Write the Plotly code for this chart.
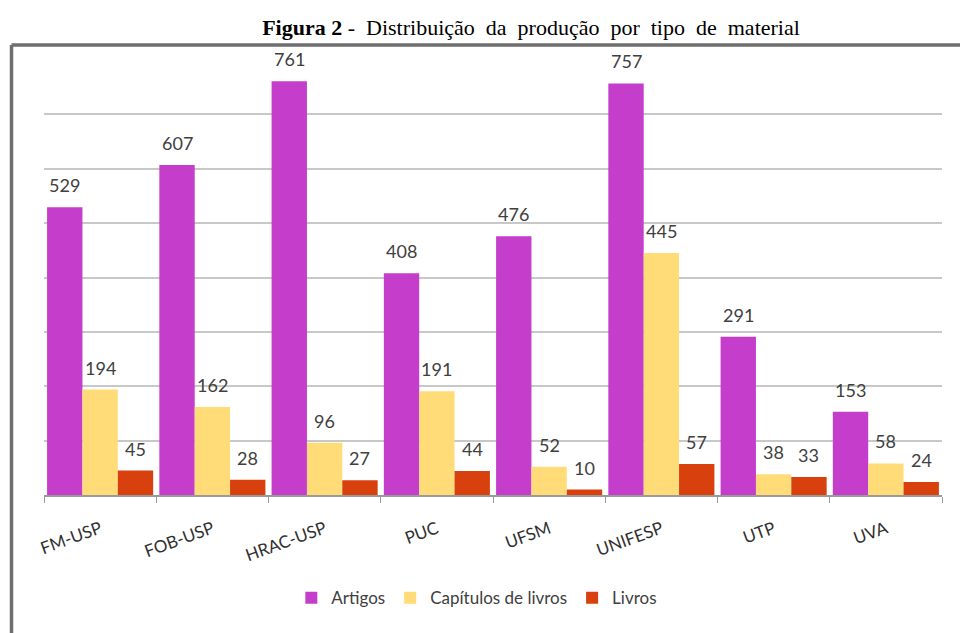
import plotly.graph_objects as go

categories = ["FM-USP", "FOB-USP", "HRAC-USP", "PUC", "UFSM", "UNIFESP", "UTP", "UVA"]
artigos = [529, 607, 761, 408, 476, 757, 291, 153]
capitulos = [194, 162, 96, 191, 52, 445, 38, 58]
livros = [45, 28, 27, 44, 10, 57, 33, 24]

series = [
    ("Artigos", artigos, "#C43ECB"),
    ("Capítulos de livros", capitulos, "#FFDC78"),
    ("Livros", livros, "#D8400E"),
]

W, H = 960, 633
ml, mr, mt, mb = 44, 18, 60, 138
pw = W - ml - mr
ph = H - mt - mb
bargap = 0.055
bar_px = pw / len(categories) * (1 - bargap) / len(series)

LABEL_FONT = "Lato, Open Sans, sans-serif"

fig = go.Figure()
annotations = []
for i, (name, vals, col) in enumerate(series):
    fig.add_trace(go.Bar(
        x=categories, y=vals, name=name,
        marker=dict(color=col, line=dict(width=0)),
    ))
    for c, v in zip(categories, vals):
        annotations.append(dict(
            x=c, y=v, xref="x", yref="y", text=str(v), showarrow=False,
            xanchor="center", yanchor="bottom", yshift=9,
            xshift=(i - 1) * bar_px,
            font=dict(family=LABEL_FONT, size=18, color="#404040"),
        ))

fig.update_layout(
    width=W, height=H,
    margin=dict(l=ml, r=mr, t=mt, b=mb),
    paper_bgcolor="white", plot_bgcolor="white",
    barmode="group", bargap=bargap, bargroupgap=0,
    showlegend=True,
    legend=dict(orientation="h", x=0.482, xanchor="center", y=-0.237, yanchor="middle",
                font=dict(family=LABEL_FONT, size=17, color="#404040"),
                itemwidth=30, tracegroupgap=0),
    title=dict(text="<b>Figura 2</b> -  Distribuição  da  produção  por  tipo  de  material",
               x=531 / W, xanchor="center", y=1 - 27 / H, yanchor="middle",
               font=dict(family="Liberation Serif, Times New Roman, serif", size=22, color="#000000")),
    font=dict(family=LABEL_FONT, color="#404040"),
    annotations=annotations,
)
fig.update_xaxes(
    showline=True, linecolor="#9a9a9a", linewidth=1.5,
    ticks="outside", ticklen=6, tickcolor="#9a9a9a", tickson="boundaries",
    tickangle=-20, ticklabelstandoff=16,
    tickfont=dict(family=LABEL_FONT, size=17, color="#303030"),
    showgrid=False,
)
fig.update_yaxes(
    range=[0, 800], dtick=100, showgrid=True, gridcolor="#c8c8c8", gridwidth=1.5,
    showticklabels=False, zeroline=False, showline=False, ticks="",
)

# outer frame (left and top edges of the figure box)
x_left = (11.5 - ml) / pw
y_top = 1 + (mt - 45) / ph
x_right = (W + 5 - ml) / pw
y_bottom = -(mb + 5) / ph
fig.add_shape(type="line", xref="paper", yref="paper", x0=x_left, x1=x_left, y0=y_top, y1=y_bottom,
              line=dict(color="#6e6e6e", width=3.5))
fig.add_shape(type="line", xref="paper", yref="paper", x0=x_left, x1=x_right, y0=y_top, y1=y_top,
              line=dict(color="#6e6e6e", width=3.5))

fig.write_html("out.html")
